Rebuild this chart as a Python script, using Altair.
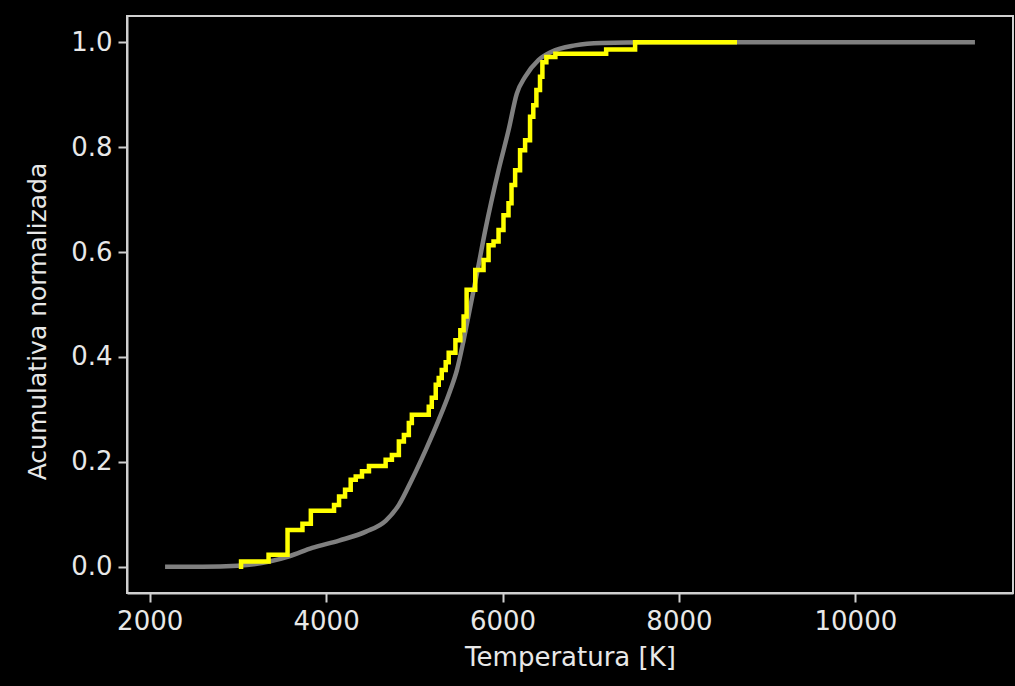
import altair as alt
import pandas as pd

# Smooth cumulative curve of the reference population
gray_temp = [2200, 2600, 3000, 3356, 3582, 3842, 4147, 4452, 4678, 4825,
             4972, 5130, 5277, 5409, 5483, 5559, 5635, 5710, 5805, 5955,
             6068, 6162, 6256, 6407, 6557, 6821, 7122, 7700, 8500, 11330]
gray_cum = [0.0, 0.0, 0.002, 0.010, 0.020, 0.036, 0.050, 0.067, 0.088, 0.118,
            0.166, 0.223, 0.280, 0.337, 0.375, 0.432, 0.496, 0.559, 0.642, 0.756,
            0.832, 0.902, 0.934, 0.966, 0.982, 0.994, 0.9987, 1.0, 1.0, 1.0]

# Empirical cumulative distribution of the sample (step function)
yel_temp = [3036, 3036, 3348, 3563, 3732, 3827, 4090, 4147, 4215, 4279,
            4336, 4407, 4486, 4675, 4746, 4825, 4882, 4938, 4972, 5164,
            5198, 5243, 5277, 5311, 5356, 5390, 5466, 5522, 5559, 5593,
            5691, 5785, 5842, 5898, 5955, 6011, 6068, 6102, 6143, 6199,
            6256, 6312, 6349, 6384, 6425, 6452, 6497, 6599, 7175, 7503,
            8633]
yel_cum = [0.0, 0.010, 0.023, 0.070, 0.082, 0.107, 0.118, 0.134, 0.147, 0.166,
           0.172, 0.182, 0.192, 0.204, 0.213, 0.239, 0.251, 0.274, 0.290, 0.305,
           0.322, 0.347, 0.360, 0.375, 0.390, 0.408, 0.432, 0.451, 0.477, 0.528,
           0.566, 0.585, 0.613, 0.620, 0.642, 0.670, 0.693, 0.728, 0.756, 0.794,
           0.813, 0.858, 0.880, 0.909, 0.934, 0.962, 0.972, 0.978, 0.986, 1.0,
           1.0]

x_ticks = [2000, 4000, 6000, 8000, 10000]
y_ticks = [0.0, 0.2, 0.4, 0.6, 0.8, 1.0]

gray_df = pd.DataFrame({"T": gray_temp, "F": gray_cum})
yel_df = pd.DataFrame({"T": yel_temp, "F": yel_cum, "i": list(range(len(yel_temp)))})

x_enc = alt.X(
    "T:Q",
    scale=alt.Scale(domain=[1743, 11787], nice=False, zero=False),
    axis=alt.Axis(title="Temperatura [K]", values=x_ticks, format="d"),
)
y_enc = alt.Y(
    "F:Q",
    scale=alt.Scale(domain=[-0.05, 1.05], nice=False, zero=False),
    axis=alt.Axis(
        title="Acumulativa normalizada",
        values=y_ticks,
        format=".1f",
        titleFontSize=25,
        titleY=305,
    ),
)

gray_line = alt.Chart(gray_df).mark_line(
    color="#808080", strokeWidth=4.5, interpolate="monotone", strokeCap="square"
).encode(x=x_enc, y=y_enc)

yel_line = alt.Chart(yel_df).mark_line(
    color="#ffff00", strokeWidth=4.5, interpolate="step-after", strokeCap="square"
).encode(x=x_enc, y=y_enc, order="i:Q")

chart = (
    alt.layer(gray_line, yel_line)
    .properties(
        width=886,
        height=577,
        background="black",
        padding={"left": 127, "top": 16, "right": 2, "bottom": 93},
        autosize=alt.AutoSizeParams(type="none"),
    )
    .configure_view(stroke="#d0d0d0", strokeWidth=2, fill="black")
    .configure_axis(
        grid=False,
        domainColor="#d0d0d0",
        domainWidth=2,
        tickColor="#d0d0d0",
        tickWidth=2,
        tickSize=9,
        labelFont="DejaVu Sans",
        labelFontSize=26,
        labelColor="#e8e8e8",
        labelPadding=6,
        titleFont="DejaVu Sans",
        titleFontSize=26,
        titleFontWeight="normal",
        titleColor="#e8e8e8",
    )
    .configure_axisX(titlePadding=10)
    .configure_axisY(titlePadding=20)
)

chart.save("out.html", embed_options={"renderer": "svg", "actions": False})
